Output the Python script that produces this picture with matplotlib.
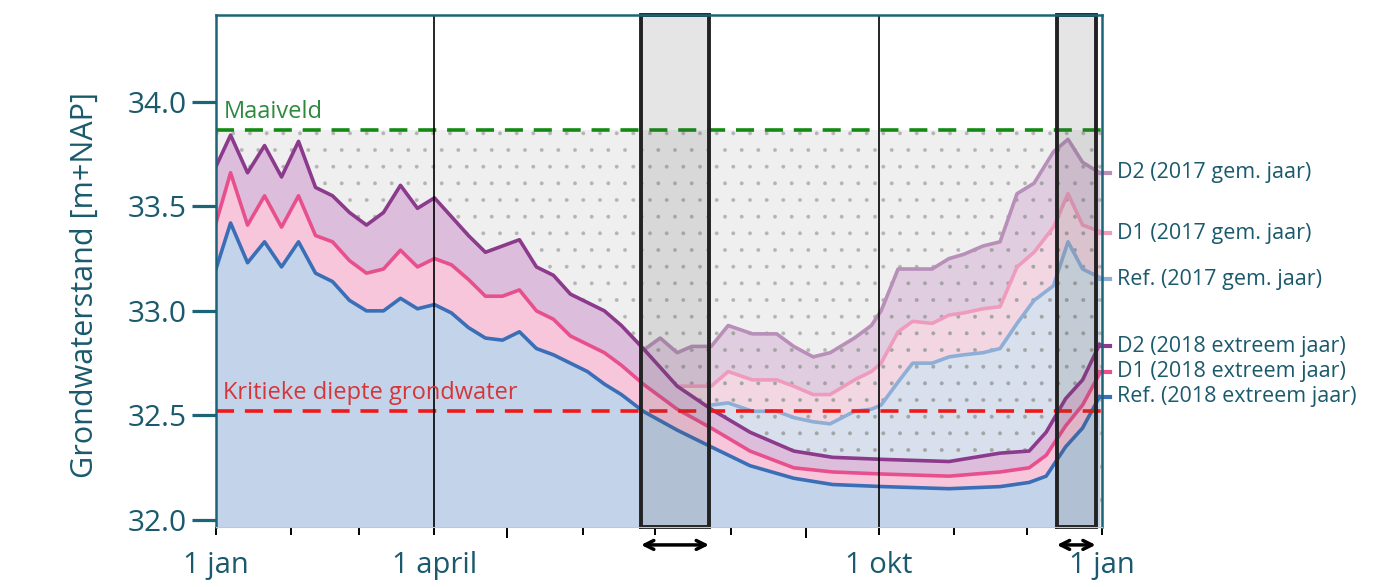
import matplotlib
matplotlib.use('Agg')

import matplotlib.pyplot as plt
import numpy as np

plt.rcParams['font.family'] = ['Open Sans', 'DejaVu Sans']
plt.rcParams['hatch.linewidth'] = 0.3

# Day of year (0 = 1 jan)
days_2018 = [0, 6, 13, 20, 27, 34, 41, 48, 55, 62, 69, 76, 83, 90, 97, 104, 111, 118,
             125, 132, 139, 146, 153, 160, 167, 176, 190, 204, 220, 238, 254, 275, 302,
             323, 335, 342, 350, 357, 364]
ref_2018 = [33.20, 33.42, 33.23, 33.33, 33.21, 33.33, 33.18, 33.14, 33.05, 33.00, 33.00,
            33.06, 33.01, 33.03, 32.99, 32.92, 32.87, 32.86, 32.90, 32.82, 32.79, 32.75,
            32.71, 32.65, 32.60, 32.52, 32.43, 32.35, 32.26, 32.20, 32.17, 32.16, 32.15,
            32.16, 32.18, 32.21, 32.35, 32.44, 32.59]
d1_2018 = [33.42, 33.66, 33.41, 33.55, 33.40, 33.55, 33.36, 33.33, 33.24, 33.18, 33.20,
           33.29, 33.21, 33.25, 33.22, 33.15, 33.07, 33.07, 33.10, 33.00, 32.96, 32.88,
           32.84, 32.80, 32.74, 32.65, 32.53, 32.44, 32.33, 32.25, 32.23, 32.22, 32.21,
           32.23, 32.25, 32.31, 32.45, 32.55, 32.70]
d2_2018 = [33.69, 33.84, 33.66, 33.79, 33.64, 33.81, 33.59, 33.55, 33.47, 33.41, 33.47,
           33.60, 33.49, 33.54, 33.45, 33.36, 33.28, 33.31, 33.34, 33.21, 33.17, 33.08,
           33.04, 33.00, 32.93, 32.82, 32.64, 32.53, 32.42, 32.33, 32.30, 32.29, 32.28,
           32.32, 32.33, 32.42, 32.58, 32.67, 32.84]

days_2017 = [177, 183, 190, 196, 204, 211, 221, 231, 238, 246, 253, 263, 270, 274, 281,
             287, 295, 302, 308, 316, 323, 330, 337, 345, 351, 357, 364]
ref_2017 = [32.52, 32.53, 32.54, 32.54, 32.55, 32.56, 32.52, 32.52, 32.49, 32.47, 32.46,
            32.52, 32.53, 32.55, 32.66, 32.75, 32.75, 32.78, 32.79, 32.80, 32.82, 32.94,
            33.05, 33.12, 33.33, 33.20, 33.16]
d1_2017 = [32.65, 32.65, 32.64, 32.64, 32.64, 32.71, 32.67, 32.67, 32.64, 32.60, 32.60,
           32.67, 32.71, 32.75, 32.90, 32.95, 32.94, 32.98, 32.99, 33.01, 33.02, 33.21,
           33.28, 33.40, 33.56, 33.41, 33.38]
d2_2017 = [32.82, 32.87, 32.80, 32.83, 32.83, 32.93, 32.89, 32.89, 32.83, 32.78, 32.80,
           32.87, 32.93, 33.00, 33.20, 33.20, 33.20, 33.25, 33.27, 33.31, 33.33, 33.56,
           33.61, 33.76, 33.82, 33.71, 33.66]

maaiveld = 33.865
kritiek = 32.52

series_labels = ["D2 (2017 gem. jaar)", "D1 (2017 gem. jaar)", "Ref. (2017 gem. jaar)",
                 "D2 (2018 extreem jaar)", "D1 (2018 extreem jaar)", "Ref. (2018 extreem jaar)"]
label_y = [33.66, 33.37, 33.15, 32.83, 32.71, 32.59]

month_ticks = [31, 59, 120, 151, 181, 212, 243, 304, 334]
major_ticks = [0, 90, 273, 365]
major_labels = ["1 jan", "1 april", "1 okt", "1 jan"]

windows = [(175.1, 203.1), (346.4, 362.4)]

teal = '#1c6478'
teal_text = '#1a5a6c'
ymin, ymax = 31.967, 34.414

fig = plt.figure(figsize=(13.86, 5.87), dpi=100)
ax = fig.add_axes([216 / 1386, 60 / 587, 886 / 1386, 512 / 587])
ax.set_xlim(0, 365)
ax.set_ylim(ymin, ymax)

# stippled soil area below ground level
ax.fill_between([0, 365], ymin, maaiveld, facecolor='#efefef', edgecolor='#b4b4b4',
                hatch='.', linewidth=0, zorder=1)

# 2017 (average year) - faded layer
d17 = np.array(days_2017)
ax.fill_between(d17, ymin, ref_2017, color='#cfdcec', alpha=0.75, linewidth=0, zorder=2)
ax.fill_between(d17, ref_2017, d1_2017, color='#f4cfdf', alpha=0.75, linewidth=0, zorder=2)
ax.fill_between(d17, d1_2017, d2_2017, color='#dcc3dc', alpha=0.75, linewidth=0, zorder=2)
ax.fill_between(d17, ymin, d2_2017, facecolor='none', edgecolor='#a4a4a4', hatch='.',
                linewidth=0, zorder=2.2)
ax.plot(d17, ref_2017, color='#8eaed6', lw=2.6, zorder=2.5)
ax.plot(d17, d1_2017, color='#ee9bbe', lw=2.6, zorder=2.5)
ax.plot(d17, d2_2017, color='#b78fb8', lw=2.6, zorder=2.5)

# 2018 (extreme year)
d18 = np.array(days_2018)
ax.fill_between(d18, ymin, ref_2018, color='#c3d3ea', linewidth=0, zorder=3)
ax.fill_between(d18, ref_2018, d1_2018, color='#f8c6db', linewidth=0, zorder=3)
ax.fill_between(d18, d1_2018, d2_2018, color='#dcbedc', linewidth=0, zorder=3)
ax.plot(d18, ref_2018, color='#3a6fb7', lw=2.6, zorder=4)
ax.plot(d18, d1_2018, color='#e8508d', lw=2.6, zorder=4)
ax.plot(d18, d2_2018, color='#8c3a8c', lw=2.6, zorder=4)

# reference levels
ax.axhline(maaiveld, color='#138a13', lw=2.6, ls=(0, (5, 3)), zorder=5)
ax.axhline(kritiek, color='#f01818', lw=2.6, ls=(0, (5, 3)), zorder=5)
ax.text(3, maaiveld + 0.03, "Maaiveld", color='#2e8b3e', fontsize=17, va='bottom', zorder=6)
ax.text(3, kritiek + 0.03, "Kritieke diepte grondwater", color='#d4363a', fontsize=17,
        va='bottom', zorder=6)

# month lines
for d in (90, 273):
    ax.axvline(d, color='black', lw=1.2, zorder=5)

# highlighted windows with arrows
for x0, x1 in windows:
    ax.fill_between([x0, x1], ymin, ymax, facecolor='#555555', alpha=0.15, linewidth=0, zorder=6)
    ax.plot([x0, x0, x1, x1, x0], [ymin, ymax, ymax, ymin, ymin], color='#222222', lw=2.8,
            zorder=7, clip_on=False, solid_joinstyle='miter')
    ax.annotate('', xy=(x1, -0.035), xytext=(x0, -0.035),
                xycoords=('data', 'axes fraction'), textcoords=('data', 'axes fraction'),
                arrowprops=dict(arrowstyle='<->', color='black', lw=2.5,
                                shrinkA=0, shrinkB=0, mutation_scale=16))

# series labels at the right
mark_colors = ['#b78fb8', '#ee9bbe', '#8eaed6', '#8c3a8c', '#e8508d', '#3a6fb7']
for lab, yv, c in zip(series_labels, label_y, mark_colors):
    ax.plot([364, 368.5], [yv, yv], color=c, lw=3, clip_on=False, zorder=8)
    ax.text(371, yv, lab, color=teal_text, fontsize=15.5, va='center', ha='left')

# axes styling
for side in ('left', 'top', 'right'):
    ax.spines[side].set_color(teal)
    ax.spines[side].set_linewidth(1.8)
ax.spines['bottom'].set_color('#d8bccd')
ax.spines['bottom'].set_linewidth(0.8)
for s in ax.spines.values():
    s.set_zorder(9)

ax.set_yticks([32.0, 32.5, 33.0, 33.5, 34.0])
ax.set_yticklabels(['32.0', '32.5', '33.0', '33.5', '34.0'])
ax.tick_params(axis='y', length=17, width=2.3, color=teal, labelcolor=teal_text,
               labelsize=21.5, pad=4)

ax.set_xticks(major_ticks)
ax.set_xticklabels(major_labels)
ax.set_xticks(month_ticks, minor=True)
ax.tick_params(axis='x', which='major', length=6, width=1.4, color='black',
               labelcolor=teal_text, labelsize=21, pad=11)
ax.tick_params(axis='x', which='minor', length=6, width=1.4, color='black')
for t, loc in zip(ax.xaxis.get_major_ticks(), major_ticks):
    if loc in (0, 365):
        t.tick1line.set_color(teal)
for t, loc in zip(ax.xaxis.get_minor_ticks(), month_ticks):
    if loc in (120, 243):
        t.tick1line.set_color(teal)
        t.tick1line.set_markersize(8)

fig.text(85 / 1386, 1 - 285 / 587, "Grondwaterstand [m+NAP]", rotation=90, color=teal_text,
         fontsize=22, ha='center', va='center')

fig.savefig('out.png', dpi=100)
plt.close(fig)
